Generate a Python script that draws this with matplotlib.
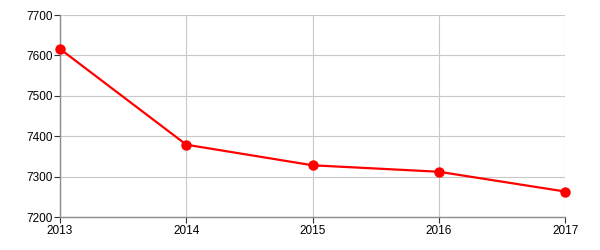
import matplotlib

matplotlib.use("Agg")
import matplotlib.pyplot as plt

plt.rcParams["font.family"] = ["Liberation Sans", "DejaVu Sans"]

years = [2013, 2014, 2015, 2016, 2017]
values = [7616, 7379, 7328, 7312, 7263]
y_ticks = [7200, 7300, 7400, 7500, 7600, 7700]

_GRID = "#c8c8c8"
_AXIS = "#8c8c8c"

fig = plt.figure(figsize=(6, 2.5), dpi=100, facecolor="white")
ax = fig.add_axes([0.1, 0.132, 0.842, 0.808])

ax.plot(years, values, color="#ff0000", linewidth=1.6, marker="o",
        markersize=7.5, markeredgewidth=0, clip_on=False, zorder=3)

ax.set_xlim(2013, 2017)
ax.set_ylim(7200, 7700)
ax.set_xticks(years)
ax.set_yticks(y_ticks)
ax.set_xticklabels([str(y) for y in years])

ax.grid(True, color=_GRID, linewidth=0.8)
ax.set_axisbelow(True)
for spine in ("top", "right"):
    ax.spines[spine].set_visible(False)
for spine in ("left", "bottom"):
    ax.spines[spine].set_color(_AXIS)
    ax.spines[spine].set_linewidth(1.0)
ax.tick_params(colors="#333333", labelcolor="black", labelsize=8.5,
               length=4, width=0.8, pad=1.5)

fig.savefig("out.png", dpi=100, facecolor="white")
